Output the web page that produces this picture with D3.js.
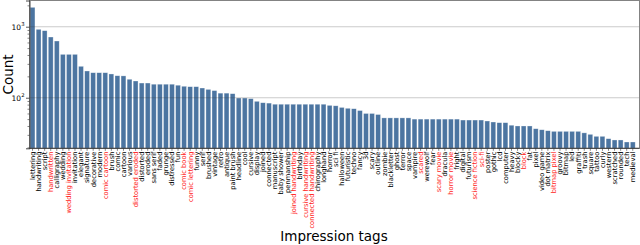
<!DOCTYPE html>
<html>
<head>
<meta charset="utf-8">
<script src="https://cdn.jsdelivr.net/npm/d3@7"></script>
<style>
  body { margin: 0; background: #fff; }
  svg { display: block; font-family: "DejaVu Sans", sans-serif; }
</style>
</head>
<body>
<svg id="svg-container"></svg>
<script>
/////////////////////////////////////////////
////////////// Data /////////////////////////
/////////////////////////////////////////////

// impression tags, in the order of the bars
const tags = [
  "lettering", "handwriting", "script", "handwritten", "calligraphy", "wedding",
  "wedding invitation", "invitation", "elegant", "signature", "decorative", "modern",
  "comic cartoon", "brush", "comic", "cartoon", "various", "distorted eroded",
  "distorted", "eroded", "sans serif", "faded", "grunge", "distressed", "fun",
  "comic book", "comic lettering", "funny", "serif", "brushed", "vintage", "retro",
  "antique", "paint brush", "headline", "cool", "cursive", "display", "joined",
  "connected", "manuscript", "baby shower", "penmanship", "joined handwriting",
  "birthday", "cursive handwriting", "connected handwriting", "chirography",
  "longhand", "horror", "sci fi", "halloween", "futuristic", "techno", "fancy", "3d",
  "scary", "outline", "zombie", "blackletter", "ghost", "terror", "space", "vampire",
  "scared", "werewolf", "fear", "scary movie", "dracula", "horror movie", "fright",
  "digital", "futurism", "science fiction", "sci-fi", "poster", "gothic", "lcd",
  "computer", "heavy", "blocky", "block", "fat", "pixel", "video game", "dot matrix",
  "bitmap pixel", "groovy", "bitmap", "led", "graffiti", "trash", "square", "tattoo",
  "curly", "western", "scratched", "rounded", "tech", "medieval"
];

// count per tag
const counts = [
  1875, 919, 879, 716, 629, 408,
  408, 408, 277, 238, 225, 225,
  225, 216, 204, 203, 182, 172,
  161, 161, 155, 155, 155, 155, 150,
  145, 143, 143, 137, 131, 126, 116,
  116, 114, 99, 99, 97, 89, 85,
  84, 81, 81, 81, 81,
  81, 81, 81, 81,
  81, 78, 77, 73, 71, 70, 66, 60,
  60, 58, 52, 52, 52, 52, 52, 50,
  50, 50, 50, 50, 50, 50, 50,
  48.5, 48.5, 48.5, 48.5, 47, 45.5, 44.5,
  44.5, 41, 40, 40, 40, 36.6, 35.4, 34.3,
  33.6, 33.6, 33.6, 33.6, 33.6, 32, 30.5, 28.6,
  28.6, 26.5, 25.4, 25.4, 23.8, 23.8
];

// tags written in red under the axis
const highlightedTags = [
  "handwritten", "wedding invitation", "comic cartoon", "distorted eroded",
  "comic book", "comic lettering", "joined handwriting", "cursive handwriting",
  "connected handwriting", "scared", "scary movie", "horror movie",
  "science fiction", "sci-fi", "block", "bitmap pixel"
];

// y axis
const yMajorTicks = [100, 1000];
const yMinorTicks = [20, 30, 40, 50, 60, 70, 80, 90, 200, 300, 400, 500, 600, 700, 800, 900, 2000];
const yDomain = [19.4, 2340];

/////////////////////////////////////////////
////////////// Constants ////////////////////
/////////////////////////////////////////////

const width = 640;
const height = 245;
const plot = { left: 29.5, top: 0.5, bottom: 148.3, right: 639.5 };
const step = 6.063;
const barsRight = plot.left + step * tags.length;

const barColour = "#4c75a1";
const highlightColour = "#ff1a1a";
const axisColour = "#333";

/////////////////////////////////////////////
////////////// Chart ////////////////////////
/////////////////////////////////////////////

const svg = d3.select("#svg-container")
  .attr("width", width)
  .attr("height", height);

/// 1. Scales ///
const xScale = d3.scaleBand()
  .domain(tags)
  .range([plot.left, barsRight])
  .paddingInner(0.2)
  .paddingOuter(0.1);

const yScale = d3.scaleLog()
  .domain(yDomain)
  .range([plot.bottom, plot.top]);

/// 2. Bars ///
svg.append("g")
  .selectAll("rect")
  .data(tags)
  .join("rect")
    .attr("x", d => xScale(d))
    .attr("width", xScale.bandwidth())
    .attr("y", (d, i) => yScale(counts[i]))
    .attr("height", (d, i) => plot.bottom - yScale(counts[i]))
    .attr("fill", barColour)
    .attr("stroke", "#fff")
    .attr("stroke-opacity", 0.5)
    .attr("stroke-width", 0.6);

/// 3. Grid (drawn on top of the bars, like the original) ///
svg.append("g")
  .selectAll("line")
  .data(yMajorTicks)
  .join("line")
    .attr("x1", plot.left)
    .attr("x2", plot.right)
    .attr("y1", d => yScale(d))
    .attr("y2", d => yScale(d))
    .attr("stroke", "#333")
    .attr("stroke-opacity", 0.25)
    .attr("stroke-width", 1.1);

/// 4. Frame ///
svg.append("rect")
  .attr("x", plot.left)
  .attr("y", plot.top)
  .attr("width", plot.right - plot.left)
  .attr("height", plot.bottom - plot.top)
  .attr("fill", "none")
  .attr("stroke", "#777")
  .attr("stroke-width", 0.9);

/// 5. Axes ///
// x axis - one tick per tag, labels rotated
const xAxis = g => g
  .attr("transform", `translate(0, ${plot.bottom})`)
  .call(d3.axisBottom(xScale).tickSize(2.5).tickSizeOuter(0))
  .call(g => g.select(".domain").attr("d", `M${plot.left},0H${plot.right}`)
    .attr("stroke", axisColour).attr("stroke-width", 0.9))
  .call(g => g.selectAll(".tick line").attr("stroke", axisColour).attr("stroke-width", 0.6))
  .call(g => g.selectAll(".tick text")
    .attr("font-family", "DejaVu Sans, sans-serif")
    .attr("font-size", "6.7px")
    .attr("fill", d => highlightedTags.includes(d) ? highlightColour : "#000")
    .attr("text-anchor", "end")
    .attr("transform", "rotate(-90)")
    .attr("x", -3.3)
    .attr("y", 0)
    .attr("dy", "0.35em"));
svg.append("g").call(xAxis);

// y axis - major ticks with 10^n labels, minor ticks without
const yAxis = g => g
  .attr("transform", `translate(${plot.left}, 0)`)
  .call(d3.axisLeft(yScale).tickValues(yMajorTicks).tickSize(3.5).tickFormat(""))
  .call(g => g.select(".domain").attr("stroke", axisColour).attr("stroke-width", 0.9))
  .call(g => g.selectAll(".tick line").attr("stroke", axisColour).attr("stroke-width", 0.8));
svg.append("g").call(yAxis);

svg.append("g")
  .attr("transform", `translate(${plot.left}, 0)`)
  .call(d3.axisLeft(yScale).tickValues(yMinorTicks).tickSize(2).tickFormat(""))
  .call(g => g.select(".domain").remove())
  .call(g => g.selectAll(".tick line").attr("stroke", axisColour).attr("stroke-width", 0.6));

// tick labels 10^2, 10^3
const yLabels = svg.append("g")
  .selectAll("text")
  .data(yMajorTicks)
  .join("text")
    .attr("x", plot.left - 5)
    .attr("y", d => yScale(d))
    .attr("dy", "0.45em")
    .attr("text-anchor", "end")
    .attr("font-size", "7.5px")
    .attr("fill", "#000");
yLabels.append("tspan").text("10");
yLabels.append("tspan")
  .attr("font-size", "5.3px")
  .attr("dy", "-0.75em")
  .text(d => Math.round(Math.log10(d)));

/// 6. Axis titles ///
svg.append("text")
  .attr("transform", `translate(12.5, ${(plot.top + plot.bottom) / 2}) rotate(-90)`)
  .attr("text-anchor", "middle")
  .attr("font-size", "13.5px")
  .attr("fill", "#000")
  .text("Count");

svg.append("text")
  .attr("x", 334)
  .attr("y", 241)
  .attr("text-anchor", "middle")
  .attr("font-size", "13.5px")
  .attr("fill", "#000")
  .text("Impression tags");
</script>
</body>
</html>
